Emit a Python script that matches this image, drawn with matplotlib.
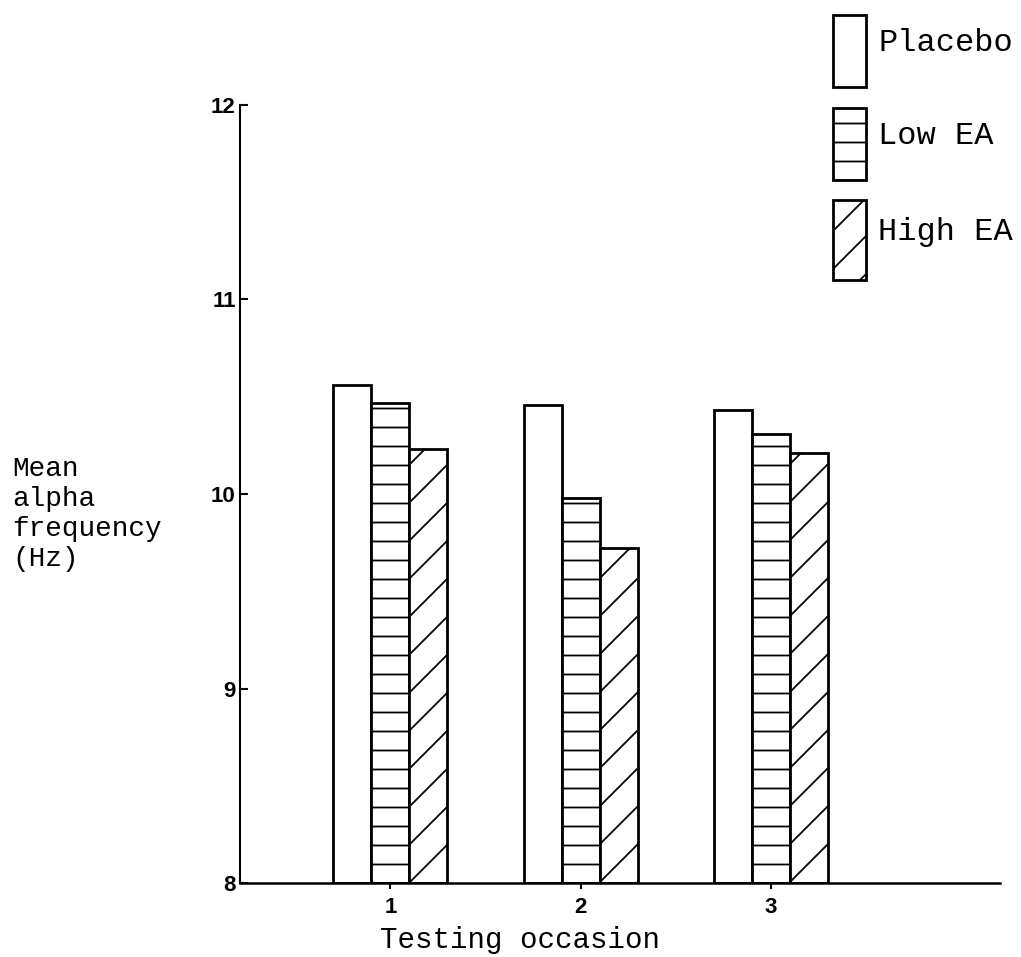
import matplotlib

matplotlib.use("Agg")
import matplotlib.pyplot as plt
from matplotlib.patches import Rectangle
import numpy as np

occasions = ["1", "2", "3"]
groups = ["Placebo", "Low EA", "High EA"]
placebo = [10.56, 10.46, 10.43]
low_ea = [10.47, 9.98, 10.31]
high_ea = [10.23, 9.72, 10.21]
hatches = ["", "-", "/"]

# dpi chosen so the hatch lines come out ~19 px apart like the scan
DPI = 114
W, H = 1021, 957
S = 100 / DPI  # sizes below were tuned in px at 100 dpi

plt.rcParams["hatch.linewidth"] = 1.3 * S

fig = plt.figure(figsize=(W / DPI, H / DPI), dpi=DPI)
ax = fig.add_axes([0.235, 0.0773, 0.744, 0.813])

x = np.arange(1, len(occasions) + 1)
width = 0.2
for i, (vals, h) in enumerate(zip([placebo, low_ea, high_ea], hatches)):
    ax.bar(x + (i - 1) * width, np.array(vals) - 8, width, bottom=8,
           facecolor="white", edgecolor="black", linewidth=2 * S, hatch=h)

ax.set_xlim(0.21, 4.2)
ax.set_ylim(8, 12)
ax.set_xticks(x)
ax.set_xticklabels(occasions, fontsize=16 * S, fontweight="bold",
                   family="Liberation Sans")
ax.set_yticks([8, 9, 10, 11, 12])
ax.set_yticklabels(["8", "9", "10", "11", "12"], fontsize=16 * S,
                   fontweight="bold", family="Liberation Sans")
ax.tick_params(axis="y", direction="in", length=6 * S, width=1.5 * S, pad=3 * S)
ax.tick_params(axis="x", direction="out", length=4 * S, width=1.5 * S, pad=6 * S)
for side in ("top", "right"):
    ax.spines[side].set_visible(False)
ax.spines["left"].set_linewidth(1.5 * S)
ax.spines["bottom"].set_linewidth(1.8 * S)

mono = "Liberation Mono"
fig.text(520 / W, 1 - 940 / H, "Testing occasion", ha="center", va="center",
         fontsize=21 * S, family=mono)
fig.text(12 / W, 1 - 514 / H, "Mean\nalpha\nfrequency\n(Hz)", ha="left",
         va="center", fontsize=20 * S, family=mono, linespacing=1.2)

# legend drawn by hand: tall boxes with labels beside them
legend_boxes = [(15, 87), (108, 180), (200, 280)]
for label, h, (top, bot) in zip(groups, hatches, legend_boxes):
    fig.patches.append(Rectangle((833 / W, 1 - bot / H), 33 / W,
                                 (bot - top) / H, transform=fig.transFigure,
                                 facecolor="white", edgecolor="black",
                                 linewidth=2 * S, hatch=h))
    fig.text(878 / W, 1 - ((top + bot) / 2 - 8) / H, label, ha="left",
             va="center", fontsize=23 * S, family=mono)

fig.savefig("out.png", dpi=DPI)
